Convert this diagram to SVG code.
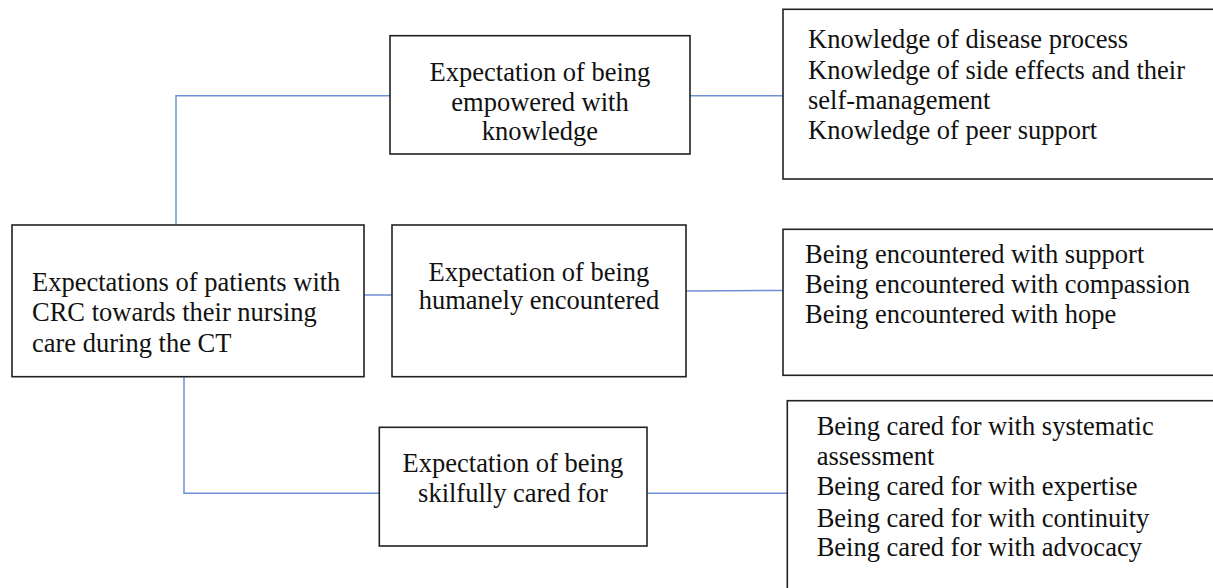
<svg xmlns="http://www.w3.org/2000/svg" width="1213" height="588" viewBox="0 0 1213 588">
<style>
.box{fill:#fff;stroke:#222;stroke-width:1.6}
.c{fill:none;stroke:#6f8fd6;stroke-width:1.5}
text{font-family:"Liberation Serif","Times New Roman",serif;font-size:26.5px;fill:#111}
.m{text-anchor:middle}
</style>
<rect width="1213" height="588" fill="#fff"/>
<g id="connectors">
<polyline class="c" points="176,224 176,95.7 390,95.7"/>
<line class="c" x1="690" y1="95.7" x2="783" y2="95.7"/>
<line class="c" x1="364" y1="295" x2="392" y2="295"/>
<line class="c" x1="686" y1="291" x2="783" y2="290.5"/>
<polyline class="c" points="184,377 184,493.3 379.3,493.3"/>
<line class="c" x1="647" y1="493.3" x2="787.3" y2="493.3"/>
</g>
<g id="root">
<rect class="box" x="12" y="225" width="352" height="151.7"/>
<text x="32" y="291">Expectations of patients with</text>
<text x="32" y="321">CRC towards their nursing</text>
<text x="32" y="351.5">care during the CT</text>
</g>
<g id="empowered">
<rect class="box" x="390" y="35.7" width="300" height="118.3"/>
<text class="m" x="540" y="81">Expectation of being</text>
<text class="m" x="540" y="110.7">empowered with</text>
<text class="m" x="540" y="140">knowledge</text>
</g>
<g id="knowledge-list">
<rect class="box" x="783" y="9.3" width="440" height="169.7"/>
<text x="808" y="48.3">Knowledge of disease process</text>
<text x="808" y="79.3">Knowledge of side effects and their</text>
<text x="808" y="109.3">self-management</text>
<text x="808" y="139.3">Knowledge of peer support</text>
</g>
<g id="humanely">
<rect class="box" x="392" y="225" width="294" height="151.7"/>
<text class="m" x="539" y="281">Expectation of being</text>
<text class="m" x="539" y="309.3">humanely encountered</text>
</g>
<g id="encounter-list">
<rect class="box" x="783" y="229.3" width="440" height="146"/>
<text x="805" y="263.3">Being encountered with support</text>
<text x="805" y="293.3">Being encountered with compassion</text>
<text x="805" y="322.7">Being encountered with hope</text>
</g>
<g id="skilfully">
<rect class="box" x="379.3" y="427.3" width="267.7" height="118.7"/>
<text class="m" x="513" y="471.7">Expectation of being</text>
<text class="m" x="513" y="501.7">skilfully cared for</text>
</g>
<g id="care-list">
<rect class="box" x="787.3" y="400.7" width="440" height="200"/>
<text x="816.7" y="435">Being cared for with systematic</text>
<text x="816.7" y="465">assessment</text>
<text x="816.7" y="495">Being cared for with expertise</text>
<text x="816.7" y="526.5">Being cared for with continuity</text>
<text x="816.7" y="556">Being cared for with advocacy</text>
</g>
</svg>
